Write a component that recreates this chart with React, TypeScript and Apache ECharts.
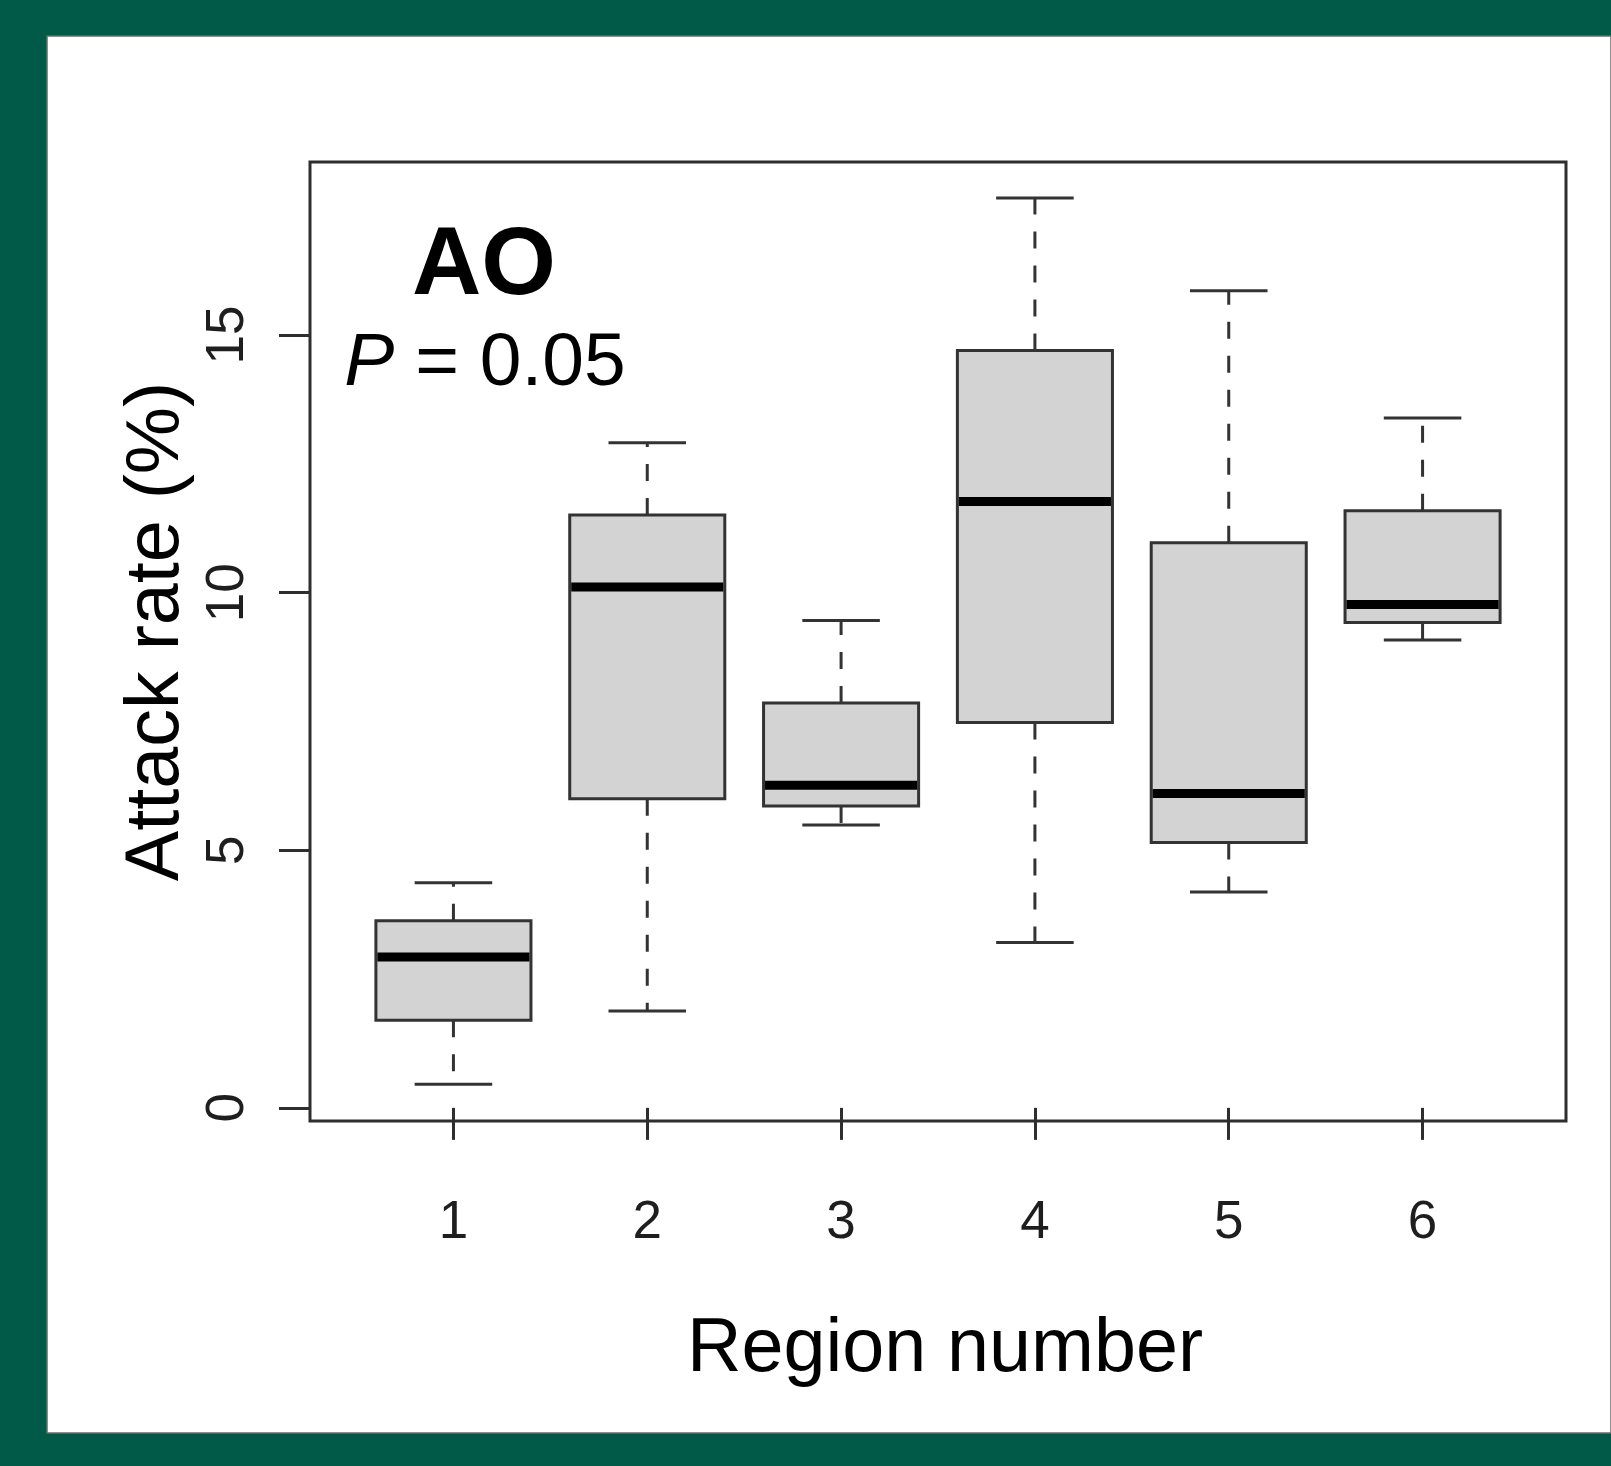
import React, { useEffect, useRef } from "react";
import * as echarts from "echarts";

// Region numbers and box-plot statistics (attack rate, %)
const regions = [1, 2, 3, 4, 5, 6];
const lowerWhisker = [0.46, 1.88, 5.49, 3.21, 4.19, 9.08];
const q1 = [1.7, 6.0, 5.86, 7.48, 5.15, 9.42];
const median = [2.93, 10.11, 6.26, 11.77, 6.1, 9.77];
const q3 = [3.63, 11.51, 7.86, 14.7, 10.97, 11.59];
const upperWhisker = [4.37, 12.91, 9.46, 17.66, 15.86, 13.39];

const yTicks = [0, 5, 10, 15];
const xTicks = [1, 2, 3, 4, 5, 6];

const FONT = "'Liberation Sans', Arial, Helvetica, sans-serif";
const BOX_WIDTH = 0.8;

export default function App() {
  const ref = useRef<HTMLDivElement>(null);

  useEffect(() => {
    if (!ref.current) return;
    const chart = echarts.init(ref.current, undefined, { renderer: "svg" });

    const data = regions.map((r, i) => [
      r,
      lowerWhisker[i],
      q1[i],
      median[i],
      q3[i],
      upperWhisker[i],
    ]);

    const renderItem = (params: any, api: any) => {
      const x = api.value(0);
      const lo = api.coord([x, api.value(1)]);
      const b1 = api.coord([x, api.value(2)]);
      const md = api.coord([x, api.value(3)]);
      const b3 = api.coord([x, api.value(4)]);
      const hi = api.coord([x, api.value(5)]);
      const w = api.size([BOX_WIDTH, 0])[0];
      const half = w / 2;
      const cx = lo[0];
      const stroke = "#333333";
      const dash = { stroke, lineWidth: 3, lineDash: [17, 17] };
      const solid = { stroke, lineWidth: 3 };
      return {
        type: "group",
        children: [
          {
            type: "line",
            shape: { x1: cx, y1: b3[1], x2: cx, y2: hi[1] },
            style: dash,
          },
          {
            type: "line",
            shape: { x1: cx, y1: b1[1], x2: cx, y2: lo[1] },
            style: dash,
          },
          {
            type: "line",
            shape: { x1: cx - half / 2, y1: hi[1], x2: cx + half / 2, y2: hi[1] },
            style: solid,
          },
          {
            type: "line",
            shape: { x1: cx - half / 2, y1: lo[1], x2: cx + half / 2, y2: lo[1] },
            style: solid,
          },
          {
            type: "rect",
            shape: { x: cx - half, y: b3[1], width: w, height: b1[1] - b3[1] },
            style: { fill: "#d3d3d3", stroke, lineWidth: 3 },
          },
          {
            type: "line",
            shape: { x1: cx - half + 1.5, y1: md[1], x2: cx + half - 1.5, y2: md[1] },
            style: { stroke: "#000", lineWidth: 9 },
          },
        ],
      };
    };

    chart.setOption({
      animation: false,
      backgroundColor: "#015a47",
      grid: {
        left: 310,
        top: 162,
        right: 45,
        bottom: 345,
        show: true,
        borderColor: "#2e2e2e",
        borderWidth: 3,
        backgroundColor: "transparent",
        z: 1,
      },
      graphic: {
        elements: [
          {
            type: "rect",
            z: -10,
            shape: { x: 47, y: 36, width: 1564, height: 1397 },
            style: { fill: "#ffffff", stroke: "#6a6a6a", lineWidth: 1.5 },
          },
          {
            type: "text",
            z: 10,
            x: 484,
            y: 260,
            style: {
              text: "AO",
              fontSize: 96,
              fontWeight: "bold",
              fontFamily: FONT,
              fill: "#000",
              align: "center",
              verticalAlign: "middle",
            },
          },
          {
            type: "text",
            z: 10,
            x: 485,
            y: 359,
            style: {
              text: "{i|P} = 0.05",
              fontSize: 75,
              fontFamily: FONT,
              fill: "#000",
              align: "center",
              verticalAlign: "middle",
              rich: {
                i: { fontStyle: "italic", fontSize: 75, fontFamily: FONT, fill: "#000" },
              },
            },
          },
        ],
      },
      xAxis: {
        type: "value",
        min: 0.26,
        max: 6.74,
        name: "Region number",
        nameLocation: "middle",
        nameGap: 224,
        nameTextStyle: {
          fontSize: 75.5,
          fontFamily: FONT,
          color: "#000",
          verticalAlign: "middle",
          padding: [0, 0, 0, 14],
        },
        axisLine: { show: false },
        splitLine: { show: false },
        axisTick: {
          show: true,
          inside: false,
          length: 32,
          lineStyle: { color: "#2e2e2e", width: 3 },
          customValues: xTicks,
        },
        axisLabel: {
          show: true,
          customValues: xTicks,
          fontSize: 53,
          fontFamily: FONT,
          color: "#1e1e1e",
          margin: 98,
          verticalAlign: "middle",
        },
      },
      yAxis: {
        type: "value",
        min: -0.255,
        max: 18.36,
        name: "Attack rate (%)",
        nameLocation: "middle",
        nameGap: 143,
        nameRotate: 90,
        nameTextStyle: {
          fontSize: 75.5,
          fontFamily: FONT,
          color: "#000",
          verticalAlign: "middle",
          padding: [0, 0, 0, 20],
        },
        axisLine: { show: false },
        splitLine: { show: false },
        axisTick: {
          show: true,
          inside: false,
          length: 31,
          lineStyle: { color: "#2e2e2e", width: 3 },
          customValues: yTicks,
        },
        axisLabel: {
          show: true,
          customValues: yTicks,
          rotate: 90,
          fontSize: 53,
          fontFamily: FONT,
          color: "#1e1e1e",
          margin: 86,
          align: "center",
          verticalAlign: "middle",
        },
      },
      series: [
        {
          type: "custom",
          renderItem,
          data,
          encode: { x: 0, y: [1, 2, 3, 4, 5] },
          clip: false,
          z: 5,
        },
      ],
    });

    return () => chart.dispose();
  }, []);

  return (
    <div
      ref={ref}
      style={{ position: "absolute", left: 0, top: 0, width: 1611, height: 1466 }}
    />
  );
}
